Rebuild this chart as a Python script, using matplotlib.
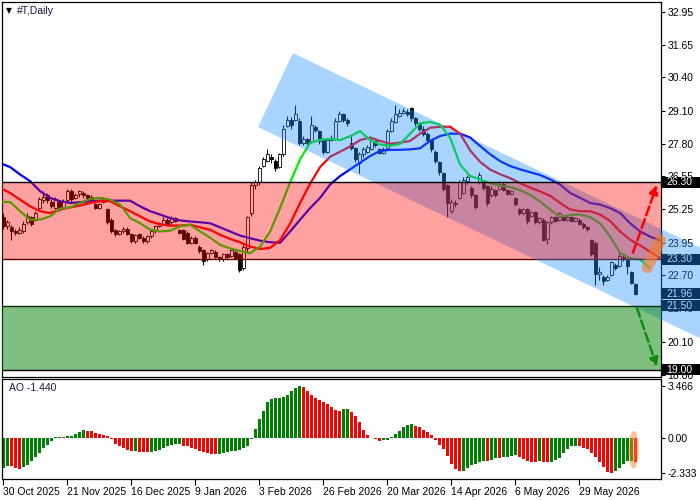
import numpy as np
import matplotlib.pyplot as plt
from matplotlib.patches import Polygon, Ellipse, Rectangle

plt.rcParams['font.family'] = ['Liberation Sans', 'DejaVu Sans']

# ----------------------------------------------------------------------
# data (#T daily, 30 Oct 2025 - Jun 2026)
# ----------------------------------------------------------------------
opens = [24.95, 24.60, 24.55, 24.40, 24.35, 24.40, 24.75, 24.95, 24.85, 25.30,
         25.60, 25.80, 25.55, 25.30, 25.55, 25.35, 25.60, 25.95, 25.70, 25.85,
         25.90, 25.80, 25.75, 25.45, 25.30, 25.55, 25.25, 24.85, 24.45, 24.30,
         24.40, 24.50, 24.30, 24.00, 24.30, 24.15, 24.00, 24.20, 24.40, 24.60,
         24.70, 24.85, 24.75, 24.90, 24.45, 24.45, 24.35, 23.95, 24.15, 23.80,
         23.65, 23.30, 23.55, 23.60, 23.40, 23.30, 23.50, 23.45, 23.60, 23.50,
         22.95, 23.75, 25.10, 26.20, 26.30, 26.95, 27.15, 27.30, 27.15, 26.90,
         27.40, 28.50, 28.75, 28.75, 28.70, 27.85, 28.00, 27.90, 28.45, 28.30,
         28.00, 27.50, 27.95, 28.00, 28.70, 28.95, 28.75, 27.85, 27.65, 27.05,
         27.40, 27.50, 27.60, 27.90, 27.60, 27.45, 27.65, 28.30, 28.65, 28.90,
         29.00, 29.05, 29.20, 28.80, 28.60, 28.40, 28.20, 27.95, 27.50, 27.10,
         26.65, 26.20, 25.20, 25.50, 25.70, 25.90, 26.35, 26.10, 25.80, 26.30,
         26.30, 26.15, 25.80, 26.00, 26.05, 26.25, 26.00, 25.85, 25.70, 25.25,
         25.10, 25.25, 25.00, 25.15, 24.75, 24.85, 24.10, 24.75, 24.95, 24.85,
         25.00, 24.85, 24.95, 24.80, 24.85, 24.70, 24.55, 24.05, 23.95, 22.75,
         22.60, 22.50, 22.70, 23.10, 23.05, 23.40, 23.30, 22.80, 22.35]
closes = [24.60, 24.75, 24.40, 24.35, 24.45, 24.70, 24.98, 24.70, 25.10, 25.64,
          25.75, 25.60, 25.40, 25.65, 25.30, 25.55, 25.95, 25.65, 25.80, 25.95,
          25.80, 25.70, 25.62, 25.30, 25.45, 25.68, 24.75, 24.40, 24.30, 24.40,
          24.50, 24.30, 24.00, 24.25, 24.15, 24.00, 24.20, 24.40, 24.60, 24.70,
          24.85, 24.70, 24.90, 24.80, 24.35, 24.10, 23.95, 24.15, 23.95, 23.62,
          23.25, 23.55, 23.65, 23.40, 23.30, 23.50, 23.40, 23.65, 23.35, 22.90,
          23.80, 24.95, 26.20, 26.30, 26.85, 27.20, 27.40, 27.20, 26.85, 27.40,
          28.40, 28.75, 28.55, 28.95, 27.85, 28.00, 27.85, 28.55, 28.35, 27.90,
          27.50, 27.95, 28.05, 28.70, 28.95, 28.75, 28.60, 27.65, 27.20, 27.40,
          27.60, 27.70, 27.90, 27.75, 27.45, 27.60, 28.30, 28.70, 28.95, 29.00,
          29.10, 28.95, 28.80, 28.60, 28.40, 28.20, 27.95, 27.60, 27.15, 26.70,
          26.05, 25.50, 25.55, 25.45, 26.30, 26.40, 26.50, 25.80, 25.35, 26.60,
          26.10, 25.50, 26.05, 25.80, 26.25, 26.00, 25.85, 25.95, 25.45, 25.10,
          25.25, 24.80, 25.15, 24.75, 24.90, 24.05, 24.75, 24.95, 24.80, 25.10,
          24.85, 24.95, 24.80, 24.90, 24.70, 24.55, 24.50, 23.50, 22.75, 22.80,
          22.45, 22.62, 23.20, 22.98, 23.45, 23.32, 23.05, 22.40, 21.96]
highs = [25.10, 24.85, 24.65, 24.50, 24.55, 24.80, 25.10, 25.00, 25.20, 25.75,
         25.95, 25.90, 25.65, 25.75, 25.60, 25.65, 26.05, 26.05, 25.90, 26.00,
         25.95, 25.85, 25.80, 25.50, 25.50, 25.75, 25.30, 24.90, 24.50, 24.45,
         24.55, 24.55, 24.35, 24.30, 24.35, 24.20, 24.25, 24.45, 24.65, 24.75,
         24.95, 24.90, 25.00, 24.95, 24.50, 24.50, 24.40, 24.20, 24.20, 23.85,
         23.70, 23.60, 23.70, 23.65, 23.45, 23.55, 23.55, 23.70, 23.65, 23.55,
         23.90, 25.00, 26.30, 26.40, 26.95, 27.30, 27.60, 27.40, 27.20, 27.45,
         28.55, 28.90, 28.85, 29.30, 28.80, 28.10, 28.05, 28.90, 28.55, 28.35,
         28.05, 28.05, 28.15, 28.80, 29.10, 29.00, 28.80, 28.10, 27.70, 27.50,
         27.70, 27.75, 28.00, 27.95, 27.65, 27.70, 28.40, 28.80, 29.30, 29.15,
         29.20, 29.15, 29.25, 28.85, 28.65, 28.50, 28.25, 28.00, 27.55, 27.15,
         26.70, 26.25, 25.65, 25.60, 26.40, 26.50, 26.60, 26.15, 25.85, 26.70,
         26.35, 26.20, 26.15, 26.05, 26.35, 26.30, 26.05, 26.00, 25.75, 25.30,
         25.30, 25.30, 25.20, 25.20, 24.95, 24.90, 24.80, 25.00, 25.00, 25.15,
         25.05, 25.00, 25.00, 24.95, 24.90, 24.75, 24.60, 24.10, 24.00, 23.00,
         22.70, 22.70, 23.25, 23.15, 23.55, 23.50, 23.35, 22.85, 22.40]
lows = [24.50, 24.50, 24.05, 24.25, 24.30, 24.35, 24.70, 24.60, 24.80, 25.25,
        25.50, 25.50, 25.30, 25.25, 25.20, 25.30, 25.55, 25.55, 25.65, 25.75,
        25.70, 25.60, 25.55, 25.25, 25.25, 25.50, 24.70, 24.35, 24.20, 24.25,
        24.35, 24.25, 23.95, 23.95, 24.10, 23.95, 23.95, 24.15, 24.35, 24.55,
        24.65, 24.65, 24.70, 24.75, 24.30, 24.05, 23.90, 23.90, 23.90, 23.55,
        23.10, 23.25, 23.50, 23.35, 23.25, 23.25, 23.35, 23.40, 23.30, 22.80,
        22.90, 23.60, 25.00, 26.05, 26.20, 26.90, 27.10, 27.05, 26.75, 26.85,
        27.35, 28.45, 28.40, 28.70, 27.75, 27.75, 27.75, 27.85, 28.25, 27.80,
        27.40, 27.45, 27.90, 27.95, 28.65, 28.65, 28.50, 27.55, 27.10, 26.65,
        27.30, 27.45, 27.55, 27.70, 27.40, 27.40, 27.60, 28.25, 28.60, 28.85,
        28.95, 28.90, 28.70, 28.50, 28.30, 28.10, 27.85, 27.50, 27.05, 26.60,
        25.95, 24.95, 25.10, 25.35, 25.65, 25.85, 26.25, 25.70, 25.25, 26.25,
        26.00, 25.40, 25.75, 25.75, 26.00, 25.95, 25.80, 25.80, 25.40, 25.05,
        25.05, 24.70, 24.95, 24.70, 24.70, 24.00, 23.90, 24.70, 24.75, 24.80,
        24.80, 24.80, 24.75, 24.75, 24.65, 24.50, 24.40, 23.45, 22.30, 22.50,
        22.30, 22.45, 22.65, 22.90, 23.00, 23.25, 22.75, 22.35, 21.90]

# Awesome Oscillator histogram
ao_values = [-2.00, -1.87, -1.90, -2.00, -2.07, -1.94, -1.81, -1.55, -1.29, -1.03,
             -0.71, -0.45, -0.19, 0.04, 0.05, 0.03, 0.11, 0.13, 0.24, 0.37,
             0.50, 0.46, 0.43, 0.34, 0.28, 0.19, 0.09, -0.11, -0.39, -0.58,
             -0.71, -0.84, -0.88, -0.87, -0.96, -0.97, -0.98, -0.97, -0.90, -0.84,
             -0.71, -0.58, -0.45, -0.40, -0.39, -0.52, -0.58, -0.65, -0.78, -0.90,
             -0.97, -1.03, -1.09, -1.10, -1.09, -1.03, -0.97, -0.90, -0.85, -0.84,
             -0.71, -0.52, -0.06, 0.58, 1.23, 1.81, 2.39, 2.58, 2.65, 2.69,
             2.70, 2.88, 3.10, 3.34, 3.466, 3.40, 3.10, 2.88, 2.67, 2.50,
             2.39, 2.24, 2.05, 1.87, 1.81, 1.94, 1.95, 1.74, 1.49, 1.03,
             0.52, 0.19, -0.04, -0.11, -0.19, -0.18, -0.13, 0.06, 0.26, 0.45,
             0.71, 0.84, 0.90, 0.78, 0.71, 0.52, 0.39, 0.19, -0.13, -0.45,
             -0.78, -1.23, -1.74, -2.07, -2.20, -2.19, -2.00, -1.81, -1.74, -1.61,
             -1.55, -1.56, -1.49, -1.36, -1.37, -1.29, -1.28, -1.23, -1.16, -1.29,
             -1.42, -1.55, -1.61, -1.62, -1.55, -1.61, -1.62, -1.61, -1.49, -1.36,
             -1.03, -0.78, -0.58, -0.52, -0.58, -0.65, -0.78, -1.03, -1.29, -1.61,
             -1.94, -2.26, -2.333, -2.20, -2.00, -1.74, -1.58, -1.55, -1.60]

# Alligator lines, one reading every 2.5 bars (shifted forward past the last bar)
ma_step = 2.5
jaw = [27.05, 26.90, 26.61, 26.35, 25.96, 25.70, 25.57, 25.50, 25.53, 25.57,
       25.59, 25.59, 25.59, 25.59, 25.37, 25.18, 25.05, 24.91, 24.82, 24.78,
       24.75, 24.71, 24.55, 24.39, 24.23, 24.13, 24.03, 23.97, 23.95, 24.39,
       24.85, 25.30, 25.70, 26.22, 26.55, 26.81, 27.07, 27.33, 27.53, 27.57,
       27.57, 27.59, 27.63, 27.92, 28.11, 28.20, 28.20, 28.05, 27.72, 27.40,
       27.13, 26.94, 26.81, 26.70, 26.59, 26.42, 26.22, 25.89, 25.70, 25.50,
       25.44, 25.30, 25.11, 24.71, 24.39, 24.19, 24.04, 23.92]
teeth = [26.09, 25.89, 25.63, 25.37, 25.18, 25.11, 25.24, 25.33, 25.40, 25.50,
         25.57, 25.57, 25.37, 25.18, 24.98, 24.78, 24.67, 24.62, 24.62, 24.65,
         24.55, 24.46, 24.26, 24.10, 23.97, 23.80, 23.71, 23.75, 24.05, 24.70,
         25.50, 26.25, 26.90, 27.30, 27.50, 27.70, 27.95, 28.05, 27.92, 27.81,
         27.85, 27.92, 28.20, 28.43, 28.47, 28.47, 28.20, 27.55, 27.10, 26.80,
         26.62, 26.47, 26.27, 26.10, 25.95, 25.78, 25.50, 25.25, 25.18, 25.18,
         25.05, 24.80, 24.39, 24.07, 23.85, 23.60, 23.35]
lips = [25.54, 25.54, 25.18, 24.85, 24.85, 24.98, 25.28, 25.33, 25.50, 25.66,
        25.70, 25.63, 25.44, 24.91, 24.71, 24.46, 24.39, 24.42, 24.59, 24.65,
        24.39, 24.15, 23.87, 23.73, 23.63, 23.54, 23.80, 24.39, 25.31, 26.30,
        27.20, 27.85, 27.95, 28.00, 27.95, 28.10, 28.30, 27.95, 27.78, 27.73,
        27.80, 28.20, 28.60, 28.66, 28.55, 28.05, 27.00, 26.55, 26.42, 26.27,
        26.18, 26.12, 26.00, 25.82, 25.55, 25.25, 24.95, 25.03, 25.05, 24.95,
        24.70, 24.20, 23.55, 23.35, 23.30, 22.95]

date_ticks = [0, 16, 32, 48, 64, 80, 96, 112, 128, 144]
date_labels = ['30 Oct 2025', '21 Nov 2025', '16 Dec 2025', '9 Jan 2026', '3 Feb 2026',
               '26 Feb 2026', '20 Mar 2026', '14 Apr 2026', '6 May 2026', '29 May 2026']
price_ticks = [32.95, 31.65, 30.40, 29.10, 27.80, 26.55, 25.25, 23.95, 22.70, 21.40, 20.10, 18.80]
ao_ticks = [3.466, 0.0, -2.333]

# levels and drawings
resistance = 26.30
support = 23.30
target_low = 21.50
target_bottom = 19.00
last_price = 21.96
channel_bars = [63.7, 72.4, 174.2, 174.2]
channel_prices = [28.46, 31.34, 23.76, 20.23]
up_arrow = [(157.4, 23.56), (163.4, 26.20)]
down_arrow = [(158.4, 21.41), (163.4, 19.12)]
pivot_mark = [(161.0, 22.98), (164.3, 24.05)]

# ----------------------------------------------------------------------
# layout (pixel boxes of a 700x500 picture)
# ----------------------------------------------------------------------
W, H = 700, 500
fig = plt.figure(figsize=(7, 5), dpi=100)


def px_axes(left, top, right, bottom):
    return fig.add_axes([left / W, 1 - bottom / H, (right - left) / W, (bottom - top) / H])


ax = px_axes(1.5, 1.5, 660.5, 376.5)
ax2 = px_axes(1.5, 379.3, 660.5, 478.8)

n = len(closes)
x = np.arange(n)
o, c, h, l = map(np.array, (opens, closes, highs, lows))
up = c >= o

# candles
ax.vlines(x, l, h, color='black', lw=0.8, zorder=2)
ax.bar(x[up], (c - o)[up], bottom=o[up], width=0.62, color='white',
       edgecolor='black', lw=0.6, zorder=3)
ax.bar(x[~up], (o - c)[~up], bottom=c[~up], width=0.62, color='black',
       edgecolor='black', lw=0.6, zorder=3)

# alligator
for vals, col in ((jaw, '#0000ff'), (teeth, '#ff0000'), (lips, '#00ee00')):
    xs = np.arange(len(vals)) * ma_step - 0.8
    ax.plot(xs, vals, color=col, lw=1.6, zorder=4, solid_capstyle='butt')

# channel (goes over the price scale on the right)
ax.add_patch(Polygon(list(zip(channel_bars, channel_prices)), closed=True,
                     fc='#1e90ff', alpha=0.38, ec='none', zorder=6, clip_on=False))

# zones
ax.axhspan(support, resistance, color='#ff0000', alpha=0.37, lw=0, zorder=7)
ax.axhspan(target_bottom, target_low, color='#008000', alpha=0.5, lw=0, zorder=7)
ax.axhline(resistance, color='black', lw=1, zorder=8)
ax.axhline(support, color='#5a0000', lw=1, zorder=5)
ax.axhline(target_low, color='#0a300a', lw=1, zorder=8)
ax.axhline(target_bottom, color='black', lw=1, zorder=8)

# arrows and the orange marker
ax.annotate('', xy=up_arrow[1], xytext=up_arrow[0],
            arrowprops=dict(arrowstyle='-|>', color='#ff0000', lw=1.8, ls='--',
                            mutation_scale=13, shrinkA=0, shrinkB=0), zorder=9)
ax.annotate('', xy=down_arrow[1], xytext=down_arrow[0],
            arrowprops=dict(arrowstyle='-|>', color='#128a12', lw=1.8, ls='--',
                            mutation_scale=13, shrinkA=0, shrinkB=0), zorder=9)
ax.plot([p[0] for p in pivot_mark], [p[1] for p in pivot_mark], color='#ff7a20',
        lw=8, alpha=0.6, solid_capstyle='round', zorder=9, clip_on=False)

ax.set_xlim(-0.45, 164.3)
ax.set_ylim(18.74, 33.35)
ax.set_xticks([])
ax.yaxis.tick_right()
ax.set_yticks(price_ticks)
ax.set_yticklabels([f'{v:.2f}' for v in price_ticks])
ax.tick_params(axis='y', direction='out', length=3, width=0.8, pad=2, labelsize=7.5)

# price boxes on the scale
box_h = 0.42
for val in (resistance, support, last_price, target_low, target_bottom):
    tr = ax.get_yaxis_transform()
    ax.add_patch(Rectangle((1.001, val - box_h / 2), 0.06, box_h, transform=tr,
                           fc='black', ec='none', zorder=5, clip_on=False))
    ax.text(1.009, val, f'{val:.2f}', transform=tr, color='white', fontsize=7.5,
            va='center', ha='left', zorder=5.5, clip_on=False)

# ----------------------------------------------------------------------
# AO panel
# ----------------------------------------------------------------------
ao = np.array(ao_values)
ao_colors = ['#008000'] + ['#008000' if ao[i] > ao[i - 1] else '#ff0000' for i in range(1, n)]
ax2.bar(x, ao, width=0.72, color=ao_colors, lw=0, zorder=2)
ax2.add_patch(Ellipse((157.6, -0.8), 2.5, 2.5, fc='#ff8030', alpha=0.5, ec='none', zorder=3))
ax2.set_xlim(-0.45, 164.3)
ax2.set_ylim(-2.74, 3.91)
ax2.yaxis.tick_right()
ax2.set_yticks(ao_ticks)
ax2.set_yticklabels(['3.466', '0.00', '-2.333'])
ax2.tick_params(axis='y', direction='out', length=3, width=0.8, pad=2, labelsize=7.5)
ax2.set_xticks(date_ticks)
ax2.set_xticklabels(date_labels)
ax2.tick_params(axis='x', direction='out', length=4, width=0.8, pad=2, labelsize=7.5)
for t in ax2.get_xticklabels():
    t.set_ha('left')

for a in (ax, ax2):
    for s in a.spines.values():
        s.set_linewidth(0.9)

ax2.text(0.011, 0.915, 'AO -1.440', transform=ax2.transAxes, fontsize=7.5,
         color='#1a1a40', va='center', ha='left')
fig.text(6 / W, 1 - 11 / H, '▼', fontsize=5.5, va='center', ha='left',
         family=['DejaVu Sans'])
fig.text(17 / W, 1 - 11 / H, '#T,Daily', fontsize=7.5, va='center', ha='left', color='#10103a')

fig.savefig('out.png', dpi=100)
